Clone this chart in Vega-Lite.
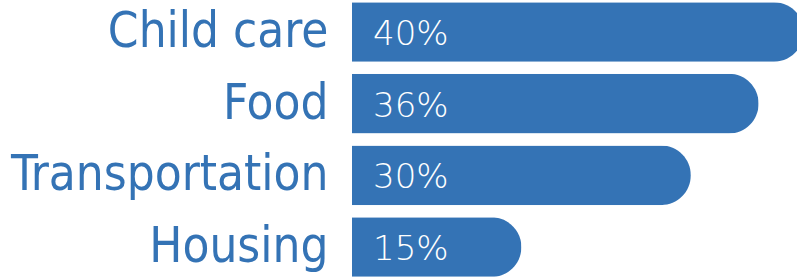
{
  "$schema": "https://vega.github.io/schema/vega-lite/v6.json",
  "width": 445,
  "height": 279,
  "autosize": "none",
  "padding": {"left": 352, "top": 0, "right": 0, "bottom": 0},
  "background": "white",
  "config": {"view": {"stroke": null}},
  "data": {
    "values": [
      {"category": "Child care", "share": 0.40},
      {"category": "Food", "share": 0.36},
      {"category": "Transportation", "share": 0.30},
      {"category": "Housing", "share": 0.15}
    ]
  },
  "encoding": {
    "y": {
      "field": "category",
      "type": "nominal",
      "sort": null,
      "scale": {"paddingInner": 0.17, "paddingOuter": 0.03},
      "axis": {
        "title": null,
        "ticks": false,
        "domain": false,
        "labelFont": "DejaVu Sans Condensed",
        "labelFontSize": 49,
        "labelColor": "#3473b5",
        "labelPadding": 24,
        "labelLimit": 400
      }
    }
  },
  "layer": [
    {
      "mark": {"type": "bar", "color": "#3473b5", "cornerRadiusEnd": 30},
      "encoding": {
        "x": {"field": "share", "type": "quantitative", "scale": {"domain": [0, 0.394], "nice": false}, "axis": null}
      }
    },
    {
      "mark": {"type": "text", "color": "white", "align": "left", "baseline": "middle", "dx": 21, "dy": 3, "font": "DejaVu Sans", "fontWeight": 200, "fontSize": 34},
      "encoding": {
        "x": {"datum": 0},
        "text": {"field": "share", "type": "quantitative", "format": ".0%"}
      }
    }
  ]
}
